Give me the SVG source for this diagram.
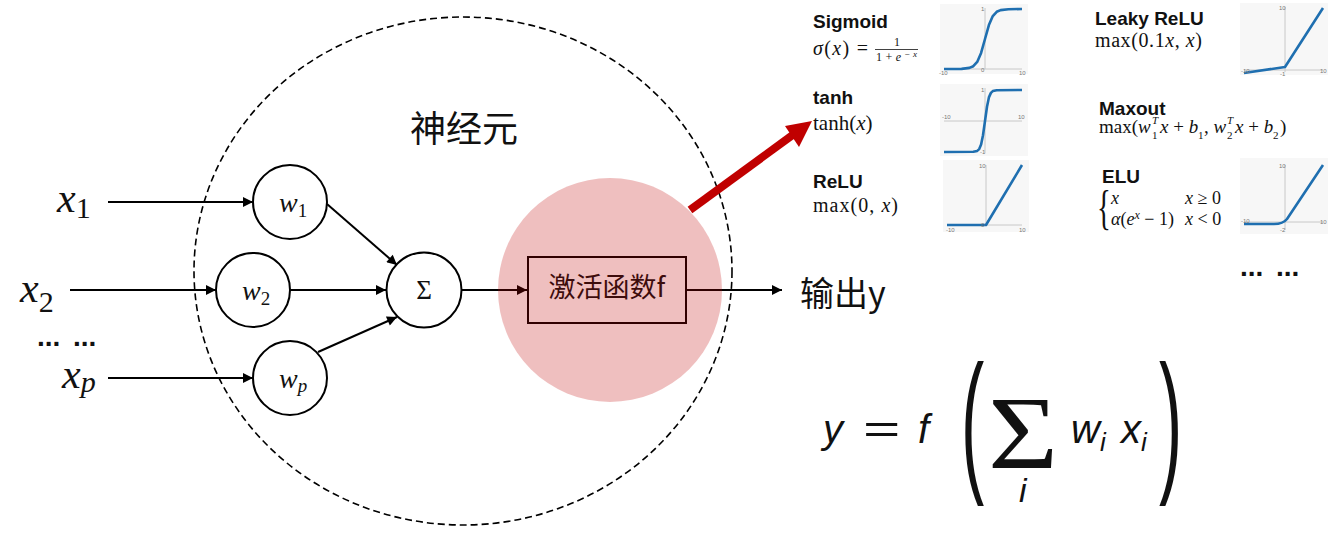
<svg xmlns="http://www.w3.org/2000/svg" width="1333" height="559" viewBox="0 0 1333 559">
<style>
.ln{stroke:#000;stroke-width:2;fill:none}
.nd{stroke:#000;stroke-width:2;fill:#fff}
.vx{font-family:"Liberation Serif","DejaVu Serif",serif;font-style:italic;fill:#111}
.cjk{font-family:"Noto Sans CJK SC","Noto Sans",sans-serif;fill:#111}
.ttl{font-family:"Liberation Sans",Arial,sans-serif;font-weight:bold;font-size:19px;fill:#111}
.m{font-family:"Liberation Serif","DejaVu Serif",serif;fill:#111}
.i{font-style:italic}
.ax{stroke:#c8c8c8;stroke-width:1;fill:none}
.bg{fill:#f7f7f7}
.cv{stroke:#1f6fb0;stroke-width:2.6;fill:none;stroke-linejoin:round}
.tk{font-family:"Liberation Sans",Arial,sans-serif;font-size:6px;fill:#777}
.fm{font-family:"Liberation Sans","DejaVu Sans",sans-serif;font-style:italic;fill:#111}
.dots{font-family:"Liberation Sans",Arial,sans-serif;font-weight:bold;font-size:28px;fill:#111}
</style>
<defs>
<marker id="ah" viewBox="0 0 10 10" refX="10" refY="5" markerWidth="11" markerHeight="10" markerUnits="userSpaceOnUse" orient="auto"><path d="M0,0 L10,5 L0,10 z" fill="#000"/></marker>
</defs>

<g id="neuron-boundary">
<ellipse cx="463" cy="271" rx="269" ry="254" fill="none" stroke="#000" stroke-width="1.6" stroke-dasharray="7 4"/>
</g>
<g id="label-neuron"><text class="cjk" x="410" y="142" font-size="36">神经元</text></g>

<g id="connectors">
<line class="ln" x1="108" y1="202" x2="253" y2="202" marker-end="url(#ah)"/>
<line class="ln" x1="70" y1="290" x2="216" y2="290" marker-end="url(#ah)"/>
<line class="ln" x1="108" y1="378" x2="253" y2="378" marker-end="url(#ah)"/>
<line class="ln" x1="327" y1="204" x2="397" y2="265" marker-end="url(#ah)"/>
<line class="ln" x1="290" y1="290" x2="386" y2="290" marker-end="url(#ah)"/>
<line class="ln" x1="318" y1="352" x2="397" y2="317" marker-end="url(#ah)"/>
<line class="ln" x1="462" y1="290" x2="527" y2="290" marker-end="url(#ah)"/>
<line class="ln" x1="686" y1="290" x2="782" y2="290" marker-end="url(#ah)"/>
</g>

<g id="input-x1"><text class="vx" x="57" y="212" font-size="42">x<tspan font-size="30" font-style="normal" dy="6">1</tspan></text></g>
<g id="input-x2"><text class="vx" x="20" y="302" font-size="42">x<tspan font-size="30" font-style="normal" dy="10">2</tspan></text></g>
<g id="input-dots"><text class="dots" y="346"><tspan x="37">...</tspan><tspan x="73">...</tspan></text></g>
<g id="input-xp"><text class="vx" x="62" y="388" font-size="42">x<tspan font-size="30" dy="4">p</tspan></text></g>

<g id="node-w1"><circle class="nd" cx="290" cy="202" r="37"/><text class="vx" x="279" y="212" font-size="28">w<tspan font-size="19" font-style="normal" dy="5">1</tspan></text></g>
<g id="node-w2"><circle class="nd" cx="253" cy="290" r="37"/><text class="vx" x="242" y="300" font-size="28">w<tspan font-size="19" font-style="normal" dy="5">2</tspan></text></g>
<g id="node-wp"><circle class="nd" cx="290" cy="378" r="37"/><text class="vx" x="279" y="388" font-size="28">w<tspan font-size="19" dy="4">p</tspan></text></g>
<g id="node-sum"><circle class="nd" cx="424" cy="290" r="37.5"/><text x="424" y="299" text-anchor="middle" font-family="Liberation Serif,serif" font-size="27" fill="#111">Σ</text></g>

<g id="node-activation">
<rect x="528" y="257" width="158" height="66" fill="none" stroke="#000" stroke-width="2"/>
<text class="cjk" x="607" y="297" text-anchor="middle" font-size="27" fill="#000">激活函数f</text>
<circle cx="610" cy="290" r="112" fill="#c00000" opacity="0.25"/>
</g>

<g id="output-y"><text class="cjk" x="800" y="306" font-size="34">输出y</text></g>

<g id="highlight-arrow">
<line x1="690" y1="210" x2="794" y2="134" stroke="#c00000" stroke-width="8"/>
<polygon points="812,121 785,126 799,147" fill="#c00000"/>
</g>

<g id="activation-panel">
<g id="act-sigmoid">
<text class="ttl" x="813" y="28">Sigmoid</text>
<text class="m" x="813" y="55" font-size="20" textLength="55"><tspan class="i">σ</tspan>(<tspan class="i">x</tspan>) =</text>
<text class="m" x="897" y="46" font-size="12" text-anchor="middle">1</text>
<line x1="875" y1="49.5" x2="918" y2="49.5" stroke="#111" stroke-width="0.8"/>
<text class="m" x="876" y="61" font-size="12" textLength="41">1+<tspan class="i">e</tspan><tspan font-size="9" dy="-4">−<tspan class="i">x</tspan></tspan></text>
<rect class="bg" x="940" y="4" width="88" height="70"/>
<line class="ax" x1="944" y1="69" x2="1022" y2="69"/><line class="ax" x1="985" y1="8" x2="985" y2="69"/>
<polyline class="cv" points="944,69 961.6,68.9 969.4,67.9 973.3,66.2 977.2,61.9 981.1,52.9 985,39 988.9,25.1 992.8,16.1 996.7,11.8 1000.6,10.1 1008.4,9.2 1022,9"/>
<text class="tk" x="939" y="75">-10</text><text class="tk" x="1019" y="75">10</text><text class="tk" x="981" y="72">0</text><text class="tk" x="981" y="11">1</text>
</g>
<g id="act-tanh">
<text class="ttl" x="813" y="104">tanh</text>
<text class="m" x="813" y="130" font-size="21">tanh(<tspan class="i">x</tspan>)</text>
<rect class="bg" x="940" y="84" width="88" height="72"/>
<line class="ax" x1="944" y1="121" x2="1022" y2="121"/><line class="ax" x1="985" y1="88" x2="985" y2="153"/>
<polyline class="cv" points="944,152 973.3,151.8 977.2,150.9 979.2,149.1 981.1,144.6 983,135.3 985,121 987,106.7 988.9,97.4 990.9,92.9 992.8,91.1 996.7,90.2 1022,90"/>
<text class="tk" x="942" y="119">-10</text><text class="tk" x="1018" y="119">10</text><text class="tk" x="981" y="92">1</text><text class="tk" x="980" y="154">-1</text>
</g>
<g id="act-relu">
<text class="ttl" x="813" y="188">ReLU</text>
<text class="m" x="813" y="212" font-size="20" textLength="85">max(0, <tspan class="i">x</tspan>)</text>
<rect class="bg" x="943" y="160" width="86" height="72"/>
<line class="ax" x1="947" y1="225" x2="1022" y2="225"/><line class="ax" x1="986" y1="165" x2="986" y2="225"/>
<polyline class="cv" points="947,225 986,225 1022,165"/>
<text class="tk" x="946" y="232">-10</text><text class="tk" x="1019" y="232">10</text><text class="tk" x="981" y="227">0</text><text class="tk" x="979" y="168">10</text>
</g>
<g id="act-leaky">
<text class="ttl" x="1095" y="25">Leaky ReLU</text>
<text class="m" x="1095" y="47" font-size="20" textLength="107">max(0.1<tspan class="i">x</tspan>, <tspan class="i">x</tspan>)</text>
<rect class="bg" x="1240" y="3" width="88" height="72"/>
<line class="ax" x1="1244" y1="70" x2="1323" y2="70"/><line class="ax" x1="1285" y1="7" x2="1285" y2="72"/>
<polyline class="cv" points="1244,73 1285,67 1323,8"/>
<text class="tk" x="1241" y="73">-10</text><text class="tk" x="1320" y="73">10</text><text class="tk" x="1280" y="76">-1</text><text class="tk" x="1279" y="10">10</text>
</g>
<g id="act-maxout">
<text class="ttl" x="1099" y="115">Maxout</text>
<text class="m" x="1099" y="133" font-size="19">max(<tspan class="i">w</tspan></text>
<text class="m i" x="1152" y="124" font-size="11">T</text>
<text class="m" x="1152" y="139" font-size="11">1</text>
<text class="m" x="1160" y="133" font-size="19"><tspan class="i">x</tspan> + <tspan class="i">b</tspan></text>
<text class="m" x="1198" y="139" font-size="11">1</text>
<text class="m" x="1204" y="133" font-size="19">, <tspan class="i">w</tspan></text>
<text class="m i" x="1227" y="124" font-size="11">T</text>
<text class="m" x="1227" y="139" font-size="11">2</text>
<text class="m" x="1235" y="133" font-size="19"><tspan class="i">x</tspan> + <tspan class="i">b</tspan></text>
<text class="m" x="1273" y="139" font-size="11">2</text>
<text class="m" x="1280" y="133" font-size="19">)</text>
</g>
<g id="act-elu">
<text class="ttl" x="1102" y="183">ELU</text>
<text class="m" x="0" y="0" transform="translate(1097,224) scale(0.6,1)" font-size="48">{</text>
<text class="m" x="1111" y="204" font-size="18"><tspan class="i">x</tspan></text>
<text class="m" x="1185" y="204" font-size="18"><tspan class="i">x</tspan> ≥ 0</text>
<text class="m" x="1111" y="225" font-size="18"><tspan class="i">α</tspan>(<tspan class="i">e</tspan><tspan class="i" font-size="12" dy="-6">x</tspan><tspan dy="6"> − 1)</tspan></text>
<text class="m" x="1185" y="225" font-size="18"><tspan class="i">x</tspan> &lt; 0</text>
<rect class="bg" x="1240" y="158" width="88" height="76"/>
<line class="ax" x1="1244" y1="222" x2="1323" y2="222"/><line class="ax" x1="1285" y1="165" x2="1285" y2="230"/>
<path class="cv" d="M1244,224 L1274,224 Q1283,224 1287,219 L1323,165"/>
<text class="tk" x="1241" y="223">-10</text><text class="tk" x="1320" y="224">10</text><text class="tk" x="1280" y="232">-2</text><text class="tk" x="1279" y="168">10</text>
</g>
<text class="dots" y="276"><tspan x="1240">...</tspan><tspan x="1276">...</tspan></text>
</g>

<g id="formula">
<text class="fm" x="823" y="443" font-size="40">y</text>
<text x="0" y="0" transform="translate(863,443) scale(1.6,1)" font-family="Liberation Sans,DejaVu Sans,sans-serif" font-size="40" fill="#111">=</text>
<text class="fm" x="918" y="443" font-size="40">f</text>
<text x="0" y="0" transform="translate(961,474) scale(0.45,1)" font-family="Liberation Sans,sans-serif" font-size="155" fill="#111">(</text>
<text x="0" y="0" transform="translate(988,468) scale(1.17,1)" font-family="Liberation Serif,serif" font-size="103" fill="#111">Σ</text>
<text class="fm" x="1019" y="502" font-size="34">i</text>
<text class="fm" x="1071" y="443" font-size="40">w<tspan font-size="26" dy="8">i</tspan></text>
<text class="fm" x="1121" y="443" font-size="40">x<tspan font-size="26" dy="8">i</tspan></text>
<text x="0" y="0" transform="translate(1159,474) scale(0.45,1)" font-family="Liberation Sans,sans-serif" font-size="155" fill="#111">)</text>
</g>
</svg>
